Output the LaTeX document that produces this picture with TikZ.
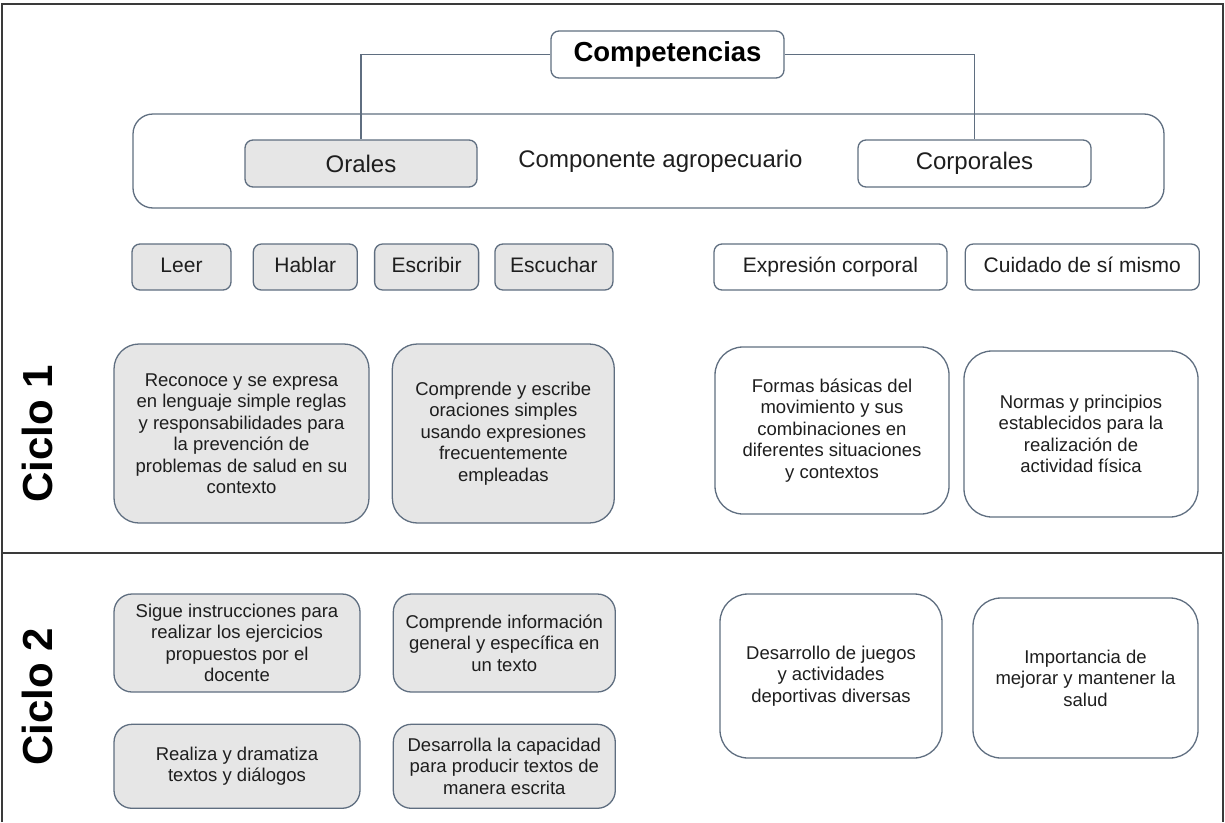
\documentclass[tikz,border=0pt]{standalone}
\usepackage{fontspec}
\setmainfont{Liberation Sans}
\usetikzlibrary{positioning}

\definecolor{linea}{HTML}{5F6E80}
\definecolor{fondo}{HTML}{E6E6E6}
\definecolor{marco}{HTML}{3A3A3A}
\definecolor{texto}{HTML}{1E1E1E}

\begin{document}
\begin{tikzpicture}[x=1pt, y=-1pt,
    caja/.style={draw=linea, line width=1.3pt, rectangle, rounded corners=8pt, align=center, inner sep=0pt, text=texto},
    gris/.style={fill=fondo},
    etiqueta/.style={caja, minimum height=46pt, text height=15.5pt, text depth=4.5pt, font=\fontsize{21}{24}\selectfont},
    tarjeta/.style={caja, rounded corners=#1, font=\fontsize{18.5}{21.5}\selectfont},
    tarjeta/.default=25pt,
    ciclo/.style={rotate=90, font=\bfseries\fontsize{42}{48}\selectfont, text=black},
    conector/.style={draw=linea, line width=1.3pt}]
    \useasboundingbox (0,0) rectangle (1225,822);

    % Marco
    \draw[marco, line width=1.8pt] (2,822) -- (2,4) -- (1223,4) -- (1223,822);
    \draw[marco, line width=1.8pt] (2,553) -- (1223,553);

    % Encabezado
    \node[caja, minimum width=233pt, minimum height=47pt, font=\bfseries\fontsize{27.5}{30}\selectfont, text=black] (competencias) at (667.5,54.5) {Competencias};
    \node[caja, rounded corners=20pt, minimum width=1031pt, minimum height=94pt] (componente) at (648.5,161) {};
    \node[text=texto, font=\fontsize{24}{27}\selectfont] (agro) at (660.5,161) {Componente agropecuario};
    \node[caja, gris, minimum width=232pt, minimum height=47pt, font=\fontsize{24}{27}\selectfont] (orales) at (361,163.5) {Orales};
    \node[caja, minimum width=233pt, minimum height=47pt, font=\fontsize{24}{27}\selectfont] (corporales) at (974.5,163.5) {Corporales};

    % Habilidades
    \node[etiqueta, gris, minimum width=99pt] (leer) at (181.5,267) {Leer};
    \node[etiqueta, gris, minimum width=104pt, right=21pt of leer] (hablar) {Hablar};
    \node[etiqueta, gris, minimum width=104pt, right=16pt of hablar] (escribir) {Escribir};
    \node[etiqueta, gris, minimum width=118pt, right=15pt of escribir] (escuchar) {Escuchar};
    \node[etiqueta, minimum width=233pt] (expresion) at (830.5,267) {Expresión corporal};
    \node[etiqueta, minimum width=234pt, right=17pt of expresion] (cuidado) {Cuidado de sí mismo};

    % Ciclo 1
    \node[ciclo] (ciclo1) at (37,434) {Ciclo 1};
    \node[tarjeta, gris, minimum width=255pt, minimum height=179pt] (reconoce) at (241.5,433.5) {Reconoce y se expresa\\en lenguaje simple reglas\\y responsabilidades para\\la prevención de\\problemas de salud en su\\contexto};
    \node[tarjeta, gris, minimum width=222pt, minimum height=179pt, right=22pt of reconoce] (comprende) {Comprende y escribe\\oraciones simples\\usando expresiones\\frecuentemente\\empleadas};
    \node[tarjeta=28pt, minimum width=234pt, minimum height=167pt] (formas) at (832,430.5) {Formas básicas del\\movimiento y sus\\combinaciones en\\diferentes situaciones\\y contextos};
    \node[tarjeta=28pt, minimum width=234pt, minimum height=166pt] (normas) at (1081,434) {Normas y principios\\establecidos para la\\realización de\\actividad física};

    % Ciclo 2
    \node[ciclo] (ciclo2) at (37,697) {Ciclo 2};
    \node[tarjeta=18pt, gris, minimum width=246pt, minimum height=98pt] (sigue) at (237,643) {Sigue instrucciones para\\realizar los ejercicios\\propuestos por el\\docente};
    \node[tarjeta=18pt, gris, minimum width=222pt, minimum height=98pt, right=32pt of sigue] (informacion) {Comprende información\\general y específica en\\un texto};
    \node[tarjeta=18pt, gris, minimum width=246pt, minimum height=84pt, below=31pt of sigue] (realiza) {Realiza y dramatiza\\textos y diálogos};
    \node[tarjeta=18pt, gris, minimum width=222pt, minimum height=84pt, below=31pt of informacion] (desarrolla) {Desarrolla la capacidad\\para producir textos de\\manera escrita};
    \node[tarjeta=28pt, minimum width=222pt, minimum height=164pt] (juegos) at (831,676) {Desarrollo de juegos\\y actividades\\deportivas diversas};
    \node[tarjeta=28pt, minimum width=225pt, minimum height=160pt] (salud) at (1085.5,678) {Importancia de\\mejorar y mantener la\\salud};

    % Conectores
    \draw[conector] (competencias.west) -| (orales.north);
    \draw[conector] (competencias.east) -| (corporales.north);
\end{tikzpicture}
\end{document}
